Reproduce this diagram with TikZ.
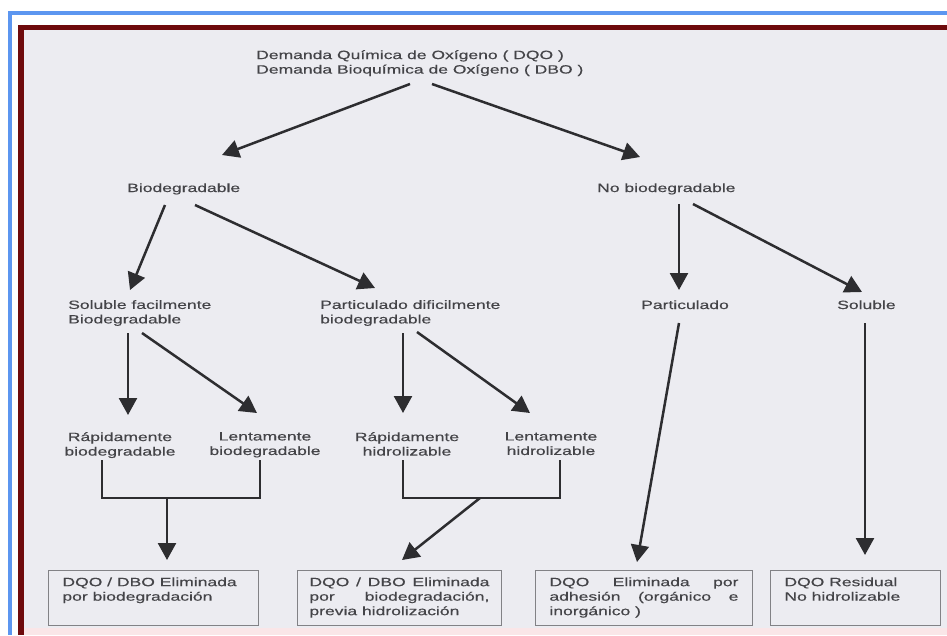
\documentclass[tikz,border=0pt]{standalone}
\usepackage{fontspec}
\setmainfont{Liberation Sans}[FakeStretch=1.46,FakeBold=0.4]
\usetikzlibrary{arrows.meta,calc}
\definecolor{paper}{RGB}{236,236,241}
\definecolor{blueframe}{RGB}{92,150,240}
\definecolor{redframe}{RGB}{110,10,12}
\definecolor{pinkstrip}{RGB}{250,230,232}
\definecolor{inkcol}{RGB}{68,68,72}
\definecolor{arrowcol}{RGB}{45,45,48}
\definecolor{boxline}{RGB}{130,130,134}
\tikzset{
  lbl/.style={font=\fontsize{12}{14.5}\selectfont, text=inkcol, inner sep=0pt},
  arr/.style={draw=arrowcol, line width=2.5pt, -{Triangle[length=17pt,width=18pt]}},
  bracketline/.style={draw=arrowcol, line width=2.5pt},
  outbox/.style={draw=boxline, line width=0.9pt, anchor=north west,
    inner xsep=14pt, inner ysep=7pt, font=\fontsize{12}{14.5}\selectfont, text=inkcol}
}
\begin{document}
\begin{tikzpicture}[x=1pt,y=-1pt]
\useasboundingbox (0,0) rectangle (947,635);
% frame and paper
\fill[white] (0,0) rectangle (947,635);
\fill[blueframe] (8,11) rectangle (947,15);
\fill[blueframe] (8,11) rectangle (12,635);
\fill[redframe] (18,25) rectangle (947,30);
\fill[redframe] (18,25) rectangle (24,635);
\fill[paper] (24,30) rectangle (947,635);
\fill[pinkstrip] (24,628) rectangle (947,635);

% labels
\node[lbl, anchor=north west, align=left] (title) at (256,50)
  {Demanda Química de Oxígeno ( DQO )\\Demanda Bioquímica de Oxígeno ( DBO )};
\node[lbl, anchor=base west] (bio) at (127,192) {Biodegradable};
\node[lbl, anchor=base west] (nobio) at (597,192) {No biodegradable};
\node[lbl, anchor=north west, align=left] (solf) at (68,300)
  {Soluble facilmente\\Biodegradable};
\node[lbl, anchor=north west, align=left] (partd) at (320,300)
  {Particulado dificilmente\\biodegradable};
\node[lbl, anchor=base west] (part) at (641,309) {Particulado};
\node[lbl, anchor=base west] (solr) at (837,309) {Soluble};
\node[lbl, anchor=north, align=center] (rb) at (120,432) {Rápidamente\\biodegradable};
\node[lbl, anchor=north, align=center] (lb) at (265,432) {Lentamente\\biodegradable};
\node[lbl, anchor=north, align=center] (rh) at (407,432) {Rápidamente\\hidrolizable};
\node[lbl, anchor=north, align=center] (lh) at (551,432) {Lentamente\\hidrolizable};

% result boxes
\node[outbox] (b1) at (48,570)
  {\parbox[t][41pt][t]{182pt}{DQO / DBO Eliminada\\por biodegradación}};
\node[outbox, inner xsep=12pt] (b2) at (297,570)
  {\parbox[t][41pt][t]{180pt}{DQO / DBO Eliminada\linebreak por biodegradación,\linebreak previa hidrolización}};
\node[outbox] (b3) at (535,570)
  {\parbox[t][41pt][t]{189pt}{DQO Eliminada por\linebreak adhesión (orgánico e\linebreak inorgánico )}};
\node[outbox] (b4) at (770,570)
  {\parbox[t][41pt][t]{142pt}{DQO Residual\\No hidrolizable}};

% tree arrows
\draw[arr] ($(title.north west)+(154,34)$) -- ($(bio.base west)+(95,-37)$);
\draw[arr] ($(title.north west)+(176,34)$) -- ($(nobio.base west)+(43,-35)$);
\draw[arr] ($(bio.base west)+(38,13)$) -- ($(solf.north west)+(62,-10)$);
\draw[arr] ($(bio.base west)+(68,13)$) -- ($(partd.north west)+(55,-12)$);
\draw[arr] ($(nobio.base west)+(82,12)$) -- ($(part.base west)+(38,-19)$);
\draw[arr] ($(nobio.base west)+(96,12)$) -- ($(solr.base west)+(25,-17)$);
\draw[arr] ($(solf.north west)+(60,33)$) -- ($(rb.north)+(8,-17)$);
\draw[arr] ($(solf.north west)+(74,33)$) -- ($(lb.north)+(-8,-19)$);
\draw[arr] ($(partd.north west)+(83,33)$) -- ($(rh.north)+(-4,-19)$);
\draw[arr] ($(partd.north west)+(97,32)$) -- ($(lh.north)+(-21,-19)$);

% brackets joining the rate classes
\draw[bracketline, line join=miter] ($(rb.north)+(-18,28)$) -- ++(0,38) -| ($(lb.north)+(-5,28)$);
\draw[bracketline, line join=miter] ($(rh.north)+(-4,28)$) -- ++(0,38) -| ($(lh.north)+(9,28)$);
\coordinate (j1) at ($(rb.north)+(47,66)$);
\coordinate (j2) at ($(rh.north)+(73,66)$);

% arrows into the result boxes
\draw[arr] (j1) -- ($(b1.north west)+(119,-10)$);
\draw[arr] (j2) -- ($(b2.north west)+(105,-10)$);
\draw[arr] ($(part.base west)+(38,14)$) -- ($(b3.north west)+(102,-8)$);
\draw[arr] ($(solr.base west)+(28,14)$) -- ($(b4.north west)+(95,-15)$);
\end{tikzpicture}
\end{document}
